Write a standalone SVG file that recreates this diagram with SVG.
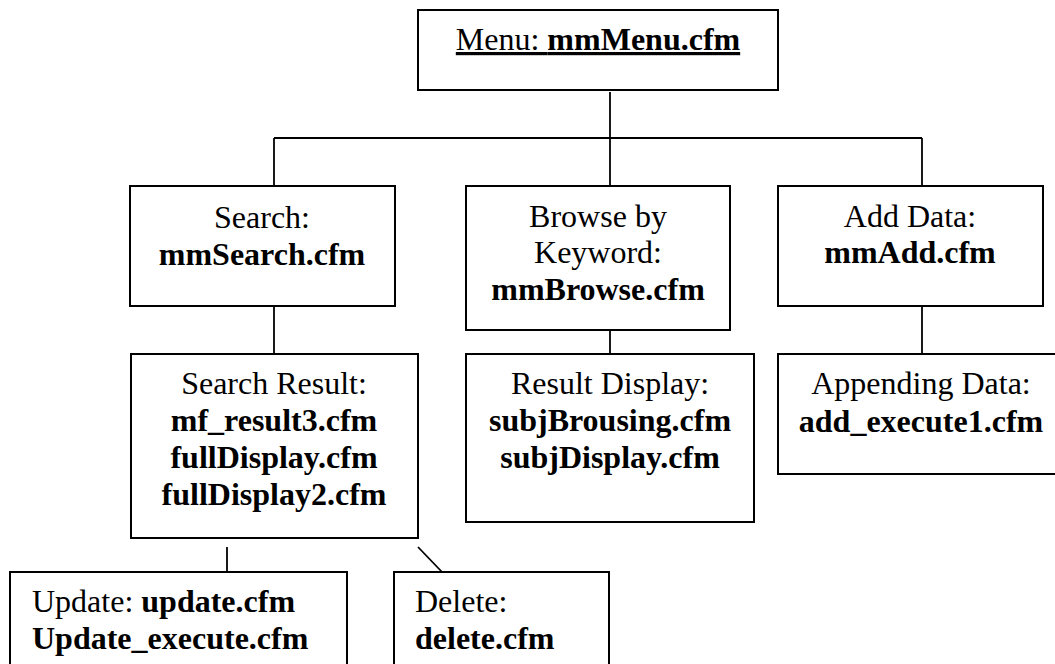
<svg xmlns="http://www.w3.org/2000/svg" width="1055" height="664" viewBox="0 0 1055 664">
<style>
.box{fill:#fff;stroke:#000;stroke-width:2}
.t{font-family:"Liberation Serif","Times New Roman",serif;font-size:32px;fill:#000}
.c{text-anchor:middle}
.b{font-weight:bold}
.ln{stroke:#000;stroke-width:1.8;fill:none}
</style>
<rect width="1055" height="664" fill="#fff"/>
<g id="connectors">
<line class="ln" x1="610" y1="92" x2="610" y2="186"/>
<line class="ln" x1="274" y1="138" x2="922" y2="138"/>
<line class="ln" x1="274" y1="138" x2="274" y2="186"/>
<line class="ln" x1="922" y1="138" x2="922" y2="186"/>
<line class="ln" x1="274" y1="306" x2="274" y2="354"/>
<line class="ln" x1="610" y1="330" x2="610" y2="354"/>
<line class="ln" x1="922" y1="306" x2="922" y2="354"/>
<line class="ln" x1="227" y1="547" x2="227" y2="572"/>
<line class="ln" x1="418" y1="547" x2="442" y2="572"/>
</g>
<g id="menu">
<rect class="box" x="418" y="10" width="360" height="80"/>
<text class="t c" x="598" y="50" text-decoration="underline">Menu: <tspan class="b">mmMenu.cfm</tspan></text>
</g>
<g id="search">
<rect class="box" x="130" y="186" width="265" height="120"/>
<text class="t c" x="262" y="228">Search:</text>
<text class="t c b" x="262" y="265">mmSearch.cfm</text>
</g>
<g id="browse">
<rect class="box" x="466" y="186" width="264" height="144"/>
<text class="t c" x="598" y="227">Browse by</text>
<text class="t c" x="598" y="263">Keyword:</text>
<text class="t c b" x="598" y="300">mmBrowse.cfm</text>
</g>
<g id="add">
<rect class="box" x="778" y="186" width="265" height="120"/>
<text class="t c" x="910" y="227">Add Data:</text>
<text class="t c b" x="910" y="263">mmAdd.cfm</text>
</g>
<g id="searchResult">
<rect class="box" x="131" y="354" width="287" height="184"/>
<text class="t c" x="274" y="394">Search Result:</text>
<text class="t c b" x="274" y="431">mf_result3.cfm</text>
<text class="t c b" x="274" y="468">fullDisplay.cfm</text>
<text class="t c b" x="274" y="505">fullDisplay2.cfm</text>
</g>
<g id="resultDisplay">
<rect class="box" x="466" y="354" width="288" height="168"/>
<text class="t c" x="610" y="394">Result Display:</text>
<text class="t c b" x="610" y="431">subjBrousing.cfm</text>
<text class="t c b" x="610" y="468">subjDisplay.cfm</text>
</g>
<g id="appending">
<rect class="box" x="778" y="354" width="290" height="120"/>
<text class="t c" x="921" y="394">Appending Data:</text>
<text class="t c b" x="921" y="432">add_execute1.cfm</text>
</g>
<g id="update">
<rect class="box" x="10" y="572" width="337" height="110"/>
<text class="t" x="32" y="612">Update: <tspan class="b">update.cfm</tspan></text>
<text class="t b" x="32" y="649">Update_execute.cfm</text>
</g>
<g id="delete">
<rect class="box" x="394" y="572" width="215" height="110"/>
<text class="t" x="415" y="612">Delete:</text>
<text class="t b" x="415" y="649">delete.cfm</text>
</g>
</svg>
